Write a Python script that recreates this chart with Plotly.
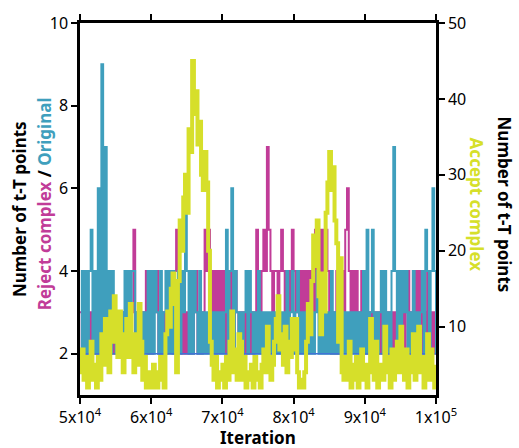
import plotly.graph_objects as go

# iteration grid (one sample every 250 iterations, 5x10^4 .. 1x10^5)
ITER = list(range(50000, 100001, 250))

# Number of t-T points, "Original" (left axis)
ORIGINAL = [
    2, 4, 2, 4, 2, 4, 5, 2, 4, 2,
    6, 2, 9, 2, 7, 2, 4, 2, 4, 3,
    2, 3, 2, 3, 2, 4, 2, 4, 3, 4,
    4, 2, 3, 2, 3, 2, 3, 2, 4, 2,
    4, 2, 4, 3, 2, 4, 2, 3, 4, 2,
    4, 2, 4, 2, 3, 4, 2, 4, 3, 6,
    4, 2, 4, 2, 4, 3, 2, 4, 2, 3,
    2, 3, 2, 3, 2, 3, 2, 3, 2, 3,
    2, 3, 5, 2, 4, 6, 2, 4, 3, 2,
    3, 2, 3, 4, 2, 4, 3, 2, 3, 2,
    4, 2, 3, 2, 3, 2, 3, 2, 3, 2,
    3, 2, 3, 2, 3, 2, 4, 2, 3, 4,
    2, 3, 4, 2, 3, 2, 3, 2, 3, 2,
    3, 2, 3, 4, 2, 3, 2, 3, 2, 3,
    2, 4, 2, 3, 2, 3, 2, 3, 2, 3,
    2, 3, 2, 3, 2, 3, 2, 3, 2, 4,
    2, 5, 2, 3, 5, 2, 3, 2, 3, 4,
    2, 4, 2, 3, 2, 4, 7, 4, 2, 4,
    2, 4, 3, 4, 2, 3, 2, 4, 2, 3,
    2, 3, 4, 2, 5, 4, 2, 4, 6, 4, 2,
]

# Number of t-T points, "Reject complex" (left axis)
REJECT = [
    3, 2, 3, 2, 3, 2, 3, 2, 3, 2,
    3, 2, 3, 2, 3, 2, 3, 4, 2, 3,
    2, 3, 2, 3, 2, 3, 2, 3, 2, 3,
    5, 2, 3, 2, 3, 2, 3, 4, 2, 4,
    2, 4, 3, 4, 2, 3, 2, 3, 2, 4,
    3, 4, 2, 4, 5, 4, 3, 2, 3, 2,
    3, 2, 4, 2, 3, 4, 2, 3, 2, 3,
    5, 4, 5, 4, 3, 4, 2, 4, 3, 4,
    3, 4, 2, 4, 3, 4, 2, 4, 3, 2,
    3, 2, 3, 2, 4, 2, 3, 2, 3, 5,
    4, 3, 4, 5, 4, 7, 5, 4, 3, 4,
    4, 3, 4, 5, 4, 3, 4, 3, 4, 5,
    4, 3, 4, 3, 4, 3, 4, 3, 4, 3,
    4, 3, 5, 4, 5, 4, 5, 3, 5, 4,
    3, 2, 3, 2, 4, 2, 3, 4, 3, 5,
    6, 4, 3, 4, 3, 4, 3, 2, 4, 3,
    2, 3, 2, 3, 2, 3, 2, 3, 2, 3,
    2, 3, 2, 3, 2, 3, 2, 3, 2, 4,
    3, 4, 2, 3, 4, 3, 2, 4, 3, 4,
    3, 4, 2, 3, 2, 4, 3, 2, 3, 2, 3,
]

# Number of t-T points, "Accept complex" (right axis)
ACCEPT = [
    4, 7, 3, 6, 2, 5, 8, 3, 5, 2,
    6, 3, 9, 5, 11, 7, 4, 12, 8, 14,
    10, 6, 12, 8, 4, 9, 11, 6, 13, 7,
    4, 9, 5, 13, 8, 3, 6, 2, 4, 3,
    2, 5, 3, 2, 4, 6, 3, 2, 9, 12,
    10, 15, 17, 13, 4, 16, 24, 20, 27, 30,
    25, 36, 33, 45, 38, 41, 34, 37, 30, 28,
    33, 29, 20, 8, 5, 3, 6, 2, 4, 3,
    5, 2, 6, 3, 8, 12, 4, 7, 3, 9,
    8, 3, 6, 2, 4, 3, 5, 2, 6, 3,
    4, 2, 5, 7, 4, 10, 6, 3, 5, 8,
    11, 14, 7, 9, 5, 10, 4, 8, 6, 11,
    7, 11, 4, 2, 3, 2, 4, 8, 13, 9,
    16, 22, 18, 24, 14, 9, 17, 12, 25, 29,
    33, 28, 31, 24, 21, 8, 19, 4, 3, 6,
    3, 8, 2, 5, 3, 6, 2, 4, 7, 3,
    5, 2, 4, 11, 6, 3, 8, 2, 5, 4,
    3, 10, 6, 4, 2, 7, 3, 5, 8, 4,
    10, 5, 3, 7, 2, 6, 4, 9, 3, 5,
    10, 4, 6, 2, 5, 9, 3, 7, 4, 2, 5,
]

X_TICKS = [50000, 60000, 70000, 80000, 90000, 100000]
X_TICKTEXT = ["5x10<sup>4</sup>", "6x10<sup>4</sup>", "7x10<sup>4</sup>",
              "8x10<sup>4</sup>", "9x10<sup>4</sup>", "1x10<sup>5</sup>"]

TEAL = "#3f9fbd"
MAGENTA = "#c13c98"
YELLOW = "#d6df2a"
FLOOR_BLUE = "#3f74d6"
FONT = "Noto Sans"

fig = go.Figure()
fig.add_trace(go.Scatter(x=ITER, y=REJECT, mode="lines", line=dict(color=MAGENTA, width=2, shape="hv"),
                         name="Reject complex"))
fig.add_trace(go.Scatter(x=ITER, y=ORIGINAL, mode="lines", line=dict(color=TEAL, width=2, shape="hv"),
                         name="Original"))
floor = min(ORIGINAL)
fig.add_trace(go.Scatter(x=[ITER[0], ITER[-1]], y=[floor, floor], mode="lines",
                         line=dict(color=FLOOR_BLUE, width=1.5), name="floor"))
fig.add_trace(go.Scatter(x=ITER, y=ACCEPT, mode="lines", yaxis="y2",
                         line=dict(color=YELLOW, width=4, shape="hv"), name="Accept complex"))

axis_common = dict(showline=True, linecolor="black", linewidth=2.5, ticks="outside",
                   ticklen=6, tickwidth=2, tickcolor="black", showgrid=False, zeroline=False,
                   tickfont=dict(family=FONT, size=16, color="black"))

def title_ann(text, x, y, angle, color="black"):
    return dict(text=text, xref="paper", yref="paper", x=x, y=y, xanchor="center",
                yanchor="middle", textangle=angle, showarrow=False,
                font=dict(family=FONT, size=17, color=color))

fig.update_layout(
    width=519, height=448,
    margin=dict(l=80, r=83, t=20, b=53),
    paper_bgcolor="white", plot_bgcolor="white",
    showlegend=False,
    xaxis=dict(range=[50000, 100000], tickvals=X_TICKS, ticktext=X_TICKTEXT,
               mirror="ticks", **axis_common),
    yaxis=dict(range=[1, 10], tickvals=[2, 4, 6, 8, 10], **axis_common),
    yaxis2=dict(range=[1, 50], tickvals=[10, 20, 30, 40, 50], overlaying="y", side="right",
                **axis_common),
    annotations=[
        title_ann("<b>Number of t-T points</b>", -0.171, 0.50, -90),
        title_ann("<b><span style='color:%s'>Reject complex</span> / <span style='color:%s'>Original</span></b>"
                  % (MAGENTA, TEAL), -0.101, 0.513, -90),
        title_ann("<b>Number of t-T points</b>", 1.191, 0.512, 90),
        title_ann("<b>Accept complex</b>", 1.115, 0.512, 90, YELLOW),
        title_ann("<b>Iteration</b>", 0.5, -0.115, 0),
    ],
)

fig.write_html("out.html")
